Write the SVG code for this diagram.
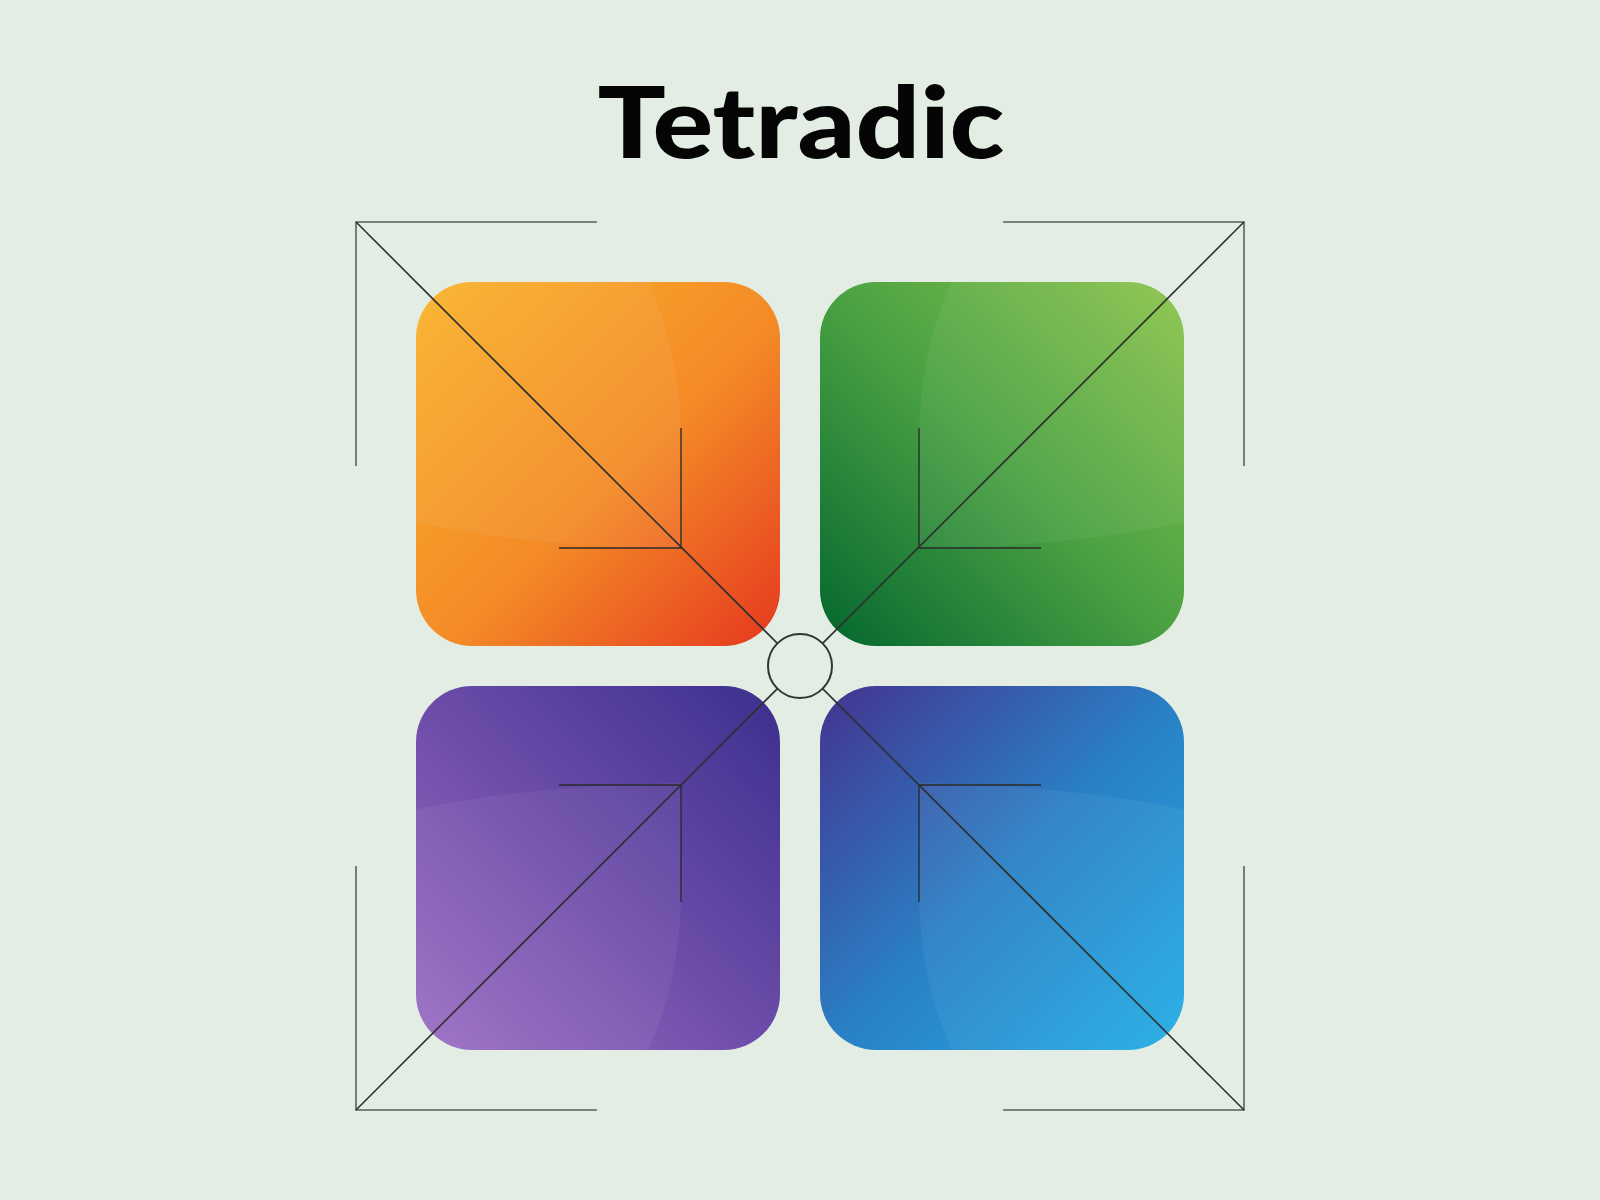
<svg xmlns="http://www.w3.org/2000/svg" width="1600" height="1200" viewBox="0 0 1600 1200">
  <defs>
    <linearGradient id="gOrange" x1="0" y1="0" x2="1" y2="1">
      <stop offset="0" stop-color="#f9b32a"/>
      <stop offset="0.55" stop-color="#f48a27"/>
      <stop offset="1" stop-color="#e5381f"/>
    </linearGradient>
    <linearGradient id="gGreen" x1="1" y1="0" x2="0" y2="1">
      <stop offset="0" stop-color="#8cc54b"/>
      <stop offset="0.5" stop-color="#4aa143"/>
      <stop offset="1" stop-color="#03662f"/>
    </linearGradient>
    <linearGradient id="gPurple" x1="0" y1="1" x2="1" y2="0">
      <stop offset="0" stop-color="#9c6ec4"/>
      <stop offset="0.5" stop-color="#6c4ca9"/>
      <stop offset="1" stop-color="#3b2f8d"/>
    </linearGradient>
    <linearGradient id="gBlue" x1="1" y1="1" x2="0" y2="0">
      <stop offset="0" stop-color="#20aee6"/>
      <stop offset="0.5" stop-color="#2a7fc4"/>
      <stop offset="1" stop-color="#44338f"/>
    </linearGradient>
    <clipPath id="cTL"><rect x="416" y="282" width="364" height="364" rx="56"/></clipPath>
    <clipPath id="cTR"><rect x="820" y="282" width="364" height="364" rx="56"/></clipPath>
    <clipPath id="cBL"><rect x="416" y="686" width="364" height="364" rx="56"/></clipPath>
    <clipPath id="cBR"><rect x="820" y="686" width="364" height="364" rx="56"/></clipPath>
  </defs>
  <style>
    .sq { stroke: none; }
    .gloss { fill: #ffffff; fill-opacity: 0.055; }
    .frame { fill: none; stroke: #5a5f5a; stroke-width: 1.6; }
    .diag { fill: none; stroke: #2e302e; stroke-width: 1.6; }
    .inner { fill: none; stroke: #2a2a2a; stroke-opacity: 0.75; stroke-width: 1.8; }
    .hub { fill: #e3ede3; stroke: #333533; stroke-width: 2; }
    .title { font-family: Lato, "Liberation Sans", sans-serif; font-weight: 900; font-size: 100px; fill: #050505; }
  </style>
  <rect x="0" y="0" width="1600" height="1200" fill="#e3ede3"/>
  <text class="title" x="801" y="158" text-anchor="middle" textLength="407" lengthAdjust="spacingAndGlyphs">Tetradic</text>

  <g id="orange">
    <rect class="sq" x="416" y="282" width="364" height="364" rx="56" fill="url(#gOrange)"/>
    <path class="gloss" clip-path="url(#cTL)" d="M 410,521 C 480,537 580,548 681,549 L 681,440 C 681,380 668,320 645,276 L 410,276 Z"/>
  </g>
  <g id="green">
    <rect class="sq" x="820" y="282" width="364" height="364" rx="56" fill="url(#gGreen)"/>
    <path class="gloss" clip-path="url(#cTR)" d="M 1190,521 C 1120,537 1020,548 919,549 L 919,440 C 919,380 932,320 955,276 L 1190,276 Z"/>
  </g>
  <g id="purple">
    <rect class="sq" x="416" y="686" width="364" height="364" rx="56" fill="url(#gPurple)"/>
    <path class="gloss" clip-path="url(#cBL)" d="M 410,811 C 480,795 580,784 681,783 L 681,892 C 681,952 668,1012 645,1056 L 410,1056 Z"/>
  </g>
  <g id="blue">
    <rect class="sq" x="820" y="686" width="364" height="364" rx="56" fill="url(#gBlue)"/>
    <path class="gloss" clip-path="url(#cBR)" d="M 1190,811 C 1120,795 1020,784 919,783 L 919,892 C 919,952 932,1012 955,1056 L 1190,1056 Z"/>
  </g>

  <g id="connectors">
    <path class="frame" d="M597,222 H356 V466"/>
    <path class="frame" d="M1003,222 H1244 V466"/>
    <path class="frame" d="M356,866 V1110 H597"/>
    <path class="frame" d="M1244,866 V1110 H1003"/>
    <path class="inner" d="M681,428 V548 H559"/>
    <path class="inner" d="M919,428 V548 H1041"/>
    <path class="inner" d="M559,785 H681 V902"/>
    <path class="inner" d="M1041,785 H919 V902"/>
    <line class="diag" x1="356" y1="222" x2="777.4" y2="643.4"/>
    <line class="diag" x1="1244" y1="222" x2="822.6" y2="643.4"/>
    <line class="diag" x1="356" y1="1110" x2="777.4" y2="688.6"/>
    <line class="diag" x1="1244" y1="1110" x2="822.6" y2="688.6"/>
  </g>
  <g id="hub">
    <circle class="hub" cx="800" cy="666" r="32"/>
  </g>
</svg>
